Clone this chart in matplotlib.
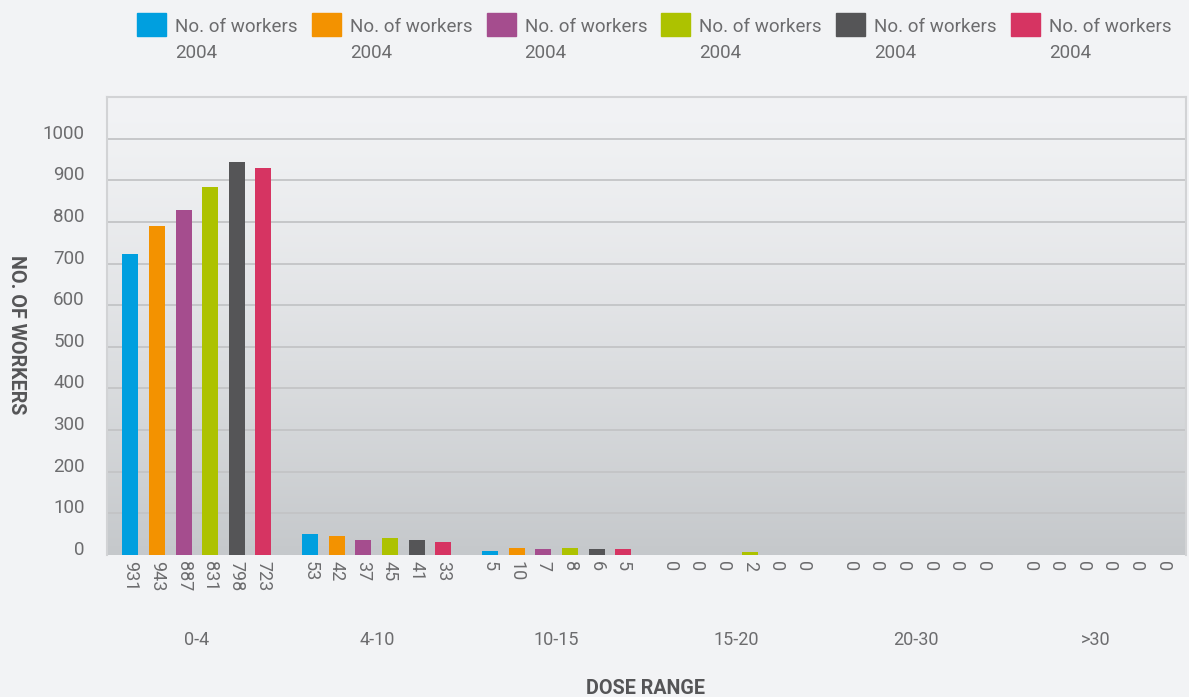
import numpy as np
import matplotlib
matplotlib.use("Agg")
import matplotlib.pyplot as plt
from matplotlib.patches import Rectangle

# ---------------- data ----------------
categories = ['0-4', '4-10', '10-15', '15-20', '20-30', '>30']
series_labels = ['No. of workers\n2004'] * 6
colors = ['#009fdf', '#f39200', '#a54d8e', '#adc200', '#555557', '#d63462']

# bar heights as drawn
blue_vals   = [723, 50, 10, 0, 0, 0]
orange_vals = [791, 46, 17, 0, 0, 0]
purple_vals = [828, 36, 14, 0, 0, 0]
green_vals  = [883, 41, 17, 7, 0, 0]
dark_vals   = [944, 36, 14, 0, 0, 0]
red_vals    = [930, 31, 14, 0, 0, 0]
bar_values = [blue_vals, orange_vals, purple_vals, green_vals, dark_vals, red_vals]

# value labels as printed under the bars
blue_lbl   = ['931', '53', '5', '0', '0', '0']
orange_lbl = ['943', '42', '10', '0', '0', '0']
purple_lbl = ['887', '37', '7', '0', '0', '0']
green_lbl  = ['831', '45', '8', '2', '0', '0']
dark_lbl   = ['798', '41', '6', '0', '0', '0']
red_lbl    = ['723', '33', '5', '0', '0', '0']
bar_labels = [blue_lbl, orange_lbl, purple_lbl, green_lbl, dark_lbl, red_lbl]

yticks = [0, 100, 200, 300, 400, 500, 600, 700, 800, 900, 1000]

# ---------------- style ----------------
BG = '#f2f3f5'
TXT = '#6c6c6e'
LIGHT = ['Roboto', 'DejaVu Sans']
LW = 'normal'
BOLD = ['Liberation Sans Narrow', 'Roboto', 'DejaVu Sans']

W, H = 1189, 697
fig = plt.figure(figsize=(W / 100, H / 100), dpi=100, facecolor=BG)
ax = fig.add_axes([107 / W, 1 - 555 / H, (1186 - 107) / W, (555 - 97) / H])
ax.set_facecolor(BG)

ax.set_xlim(-0.5, len(categories) - 0.5)
ax.set_ylim(0, 1100)

# gradient background
grad = np.linspace(0, 1, 256)[:, None]
top = np.array([0xf2, 0xf3, 0xf5]) / 255
bot = np.array([0xc5, 0xc8, 0xcb]) / 255
img = top[None, None, :] * (1 - grad[..., None] ** 1.3) + bot[None, None, :] * (grad[..., None] ** 1.3)
ax.imshow(img, extent=[-0.5, len(categories) - 0.5, 0, 1100], aspect='auto',
          origin='upper', zorder=0)

# grid
for t in yticks[1:]:
    ax.axhline(t, color='#c3c4c6', lw=1.3, zorder=1)

n = len(bar_values)
step = 0.148
width = 0.089
x = np.arange(len(categories))
for i, (vals, labs) in enumerate(zip(bar_values, bar_labels)):
    off = (i - (n - 1) / 2) * step
    ax.bar(x + off, vals, width=width, color=colors[i], zorder=3)
    for xi, lab in zip(x + off, labs):
        ax.annotate(lab, xy=(xi, 0), xytext=(0, -4), textcoords='offset points',
                    rotation=-90, ha='center', va='top', fontsize=13,
                    color=TXT, family=LIGHT, fontweight=LW,
                    annotation_clip=False)

# spines
for s in ['left', 'top', 'right']:
    ax.spines[s].set_color('#d2d3d5')
    ax.spines[s].set_linewidth(1.5)
ax.spines['bottom'].set_visible(False)

ax.set_yticks(yticks)
ax.set_yticklabels([str(t) for t in yticks], fontsize=13.5, color=TXT,
                   family=LIGHT, fontweight=LW)
for lab in ax.get_yticklabels():
    lab.set_va('baseline')
ax.tick_params(axis='y', length=0, pad=16)

ax.set_xticks(x)
ax.set_xticklabels(categories, fontsize=13, color=TXT, family=LIGHT,
                   fontweight=LW)
ax.tick_params(axis='x', length=0, pad=55)

# axis titles
fig.text(645 / W, 1 - 689 / H, 'DOSE RANGE', ha='center',
         va='center', fontsize=14.2, fontweight='bold', color='#555557', family=BOLD)
fig.text(16 / W, 1 - 335 / H, 'NO. OF WORKERS', rotation=270, ha='center',
         va='center', fontsize=14.2, fontweight='bold', color='#555557', family=BOLD)

# legend (manual)
for i, lab in enumerate(series_labels):
    x0 = 137 + i * 174.8
    fig.patches.append(Rectangle((x0 / W, 1 - 36 / H), 29 / W, 23 / H,
                                 transform=fig.transFigure, color=colors[i]))
    l1, l2 = lab.split('\n')
    fig.text((x0 + 38) / W, 1 - 27 / H, l1, ha='left', va='center', fontsize=13.5,
             color=TXT, family=LIGHT, fontweight=LW)
    fig.text((x0 + 38) / W, 1 - 53 / H, l2, ha='left', va='center', fontsize=13.5,
             color=TXT, family=LIGHT, fontweight=LW)

fig.savefig('out.png', dpi=100, facecolor=BG)
